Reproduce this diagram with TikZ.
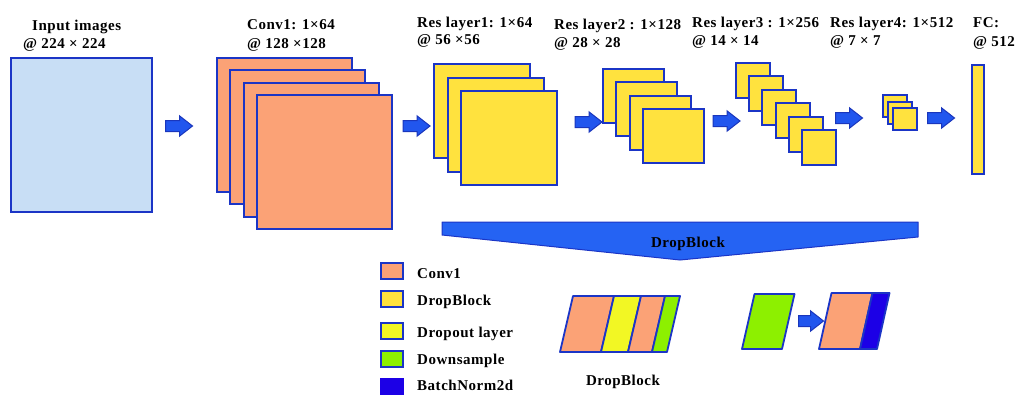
\documentclass[tikz,border=0pt]{standalone}
\usepackage{fontspec}
\setmainfont{Liberation Serif}[LetterSpace=3.5]
\usetikzlibrary{shapes.arrows}
\definecolor{edge}{HTML}{1B35C6}
\definecolor{inputc}{HTML}{C8DEF5}
\definecolor{orangec}{HTML}{FBA276}
\definecolor{yellowc}{HTML}{FFE23E}
\definecolor{dropc}{HTML}{F2F724}
\definecolor{greenc}{HTML}{8DF000}
\definecolor{bnc}{HTML}{1C00E6}
\definecolor{arrowc}{HTML}{2156EE}
\definecolor{arrowedge}{HTML}{1A36BC}
\definecolor{bannerc}{HTML}{2563F3}
\begin{document}
\begin{tikzpicture}[x=1pt,y=-1pt,
  lay/.style={draw=edge,line width=2pt,inner sep=0pt,outer sep=0pt,anchor=north west},
  lbl/.style={anchor=base west,inner sep=0pt,font=\fontsize{15}{17}\selectfont\bfseries},
  clbl/.style={anchor=base,inner sep=0pt,font=\fontsize{15}{17}\selectfont\bfseries},
  para/.style={draw=edge,line width=1.8pt,line join=round},
  barrow/.style={single arrow,draw=arrowedge,fill=arrowc,line width=1pt,minimum height=27pt,inner xsep=0pt,inner ysep=5pt,single arrow head extend=4.5pt,single arrow tip angle=76,anchor=center}]
\useasboundingbox (0,0) rectangle (1020,394);
\clip (0,0) rectangle (1020,394);

% input
\node[lay,fill=inputc,minimum width=141pt,minimum height=154pt] (in) at (11,58) {};
\node[lbl] (tin1) at (32,30) {Input images};
\node[lbl] (tin2) at (23,48) {@ 224 × 224};

% conv1
\foreach \i in {0,...,3}
  \node[lay,fill=orangec,minimum width=135pt,minimum height=134pt] (c\i) at (217+13.3*\i,58+12.3*\i) {};
\node[lbl] (tc1) at (247,29) {Conv1: 1×64};
\node[lbl] (tc2) at (247,48) {@ 128 ×128};

% res1
\foreach \i in {0,...,2}
  \node[lay,fill=yellowc,minimum width=96pt,minimum height=94pt] (ra\i) at (434+13.5*\i,64+13.5*\i) {};
\node[lbl] (tr11) at (417,27) {Res layer1: 1×64};
\node[lbl] (tr12) at (417,44) {@ 56 ×56};

% res2
\foreach \i in {0,...,3}
  \node[lay,fill=yellowc,minimum width=61pt,minimum height=54pt] (rb\i) at (603+13.3*\i,69+13.3*\i) {};
\node[lbl] (tr21) at (554,29) {Res layer2 : 1×128};
\node[lbl] (tr22) at (554,47) {@ 28 × 28};

% res3
\foreach \i in {0,...,5}
  \node[lay,fill=yellowc,minimum width=34pt,minimum height=35pt] (rc\i) at (736+13.2*\i,63+13.4*\i) {};
\node[lbl] (tr31) at (692,27) {Res layer3 : 1×256};
\node[lbl] (tr32) at (692,45) {@ 14 × 14};

% res4
\foreach \i in {0,...,2}
  \node[lay,fill=yellowc,minimum width=24pt,minimum height=22pt] (rd\i) at (883+5*\i,95+6.5*\i) {};
\node[lbl] (tr41) at (830,27) {Res layer4: 1×512};
\node[lbl] (tr42) at (830,45) {@ 7 × 7};

% fc
\node[lay,fill=yellowc,minimum width=12pt,minimum height=109pt] (fc) at (972,65) {};
\node[lbl] (tf1) at (973,27) {FC:};
\node[lbl] (tf2) at (973,46) {@ 512};

% arrows
\node[barrow] (a1) at (175.5,126) {};
\node[barrow] (a2) at (413,126) {};
\node[barrow] (a3) at (585,122) {};
\node[barrow] (a4) at (723,121) {};
\node[barrow] (a5) at (845.5,118) {};
\node[barrow] (a6) at (937.5,118) {};

% banner
\draw[draw=edge,fill=bannerc,line width=1pt,line join=round]
  (442,222) -- (918,222) -- (918,237) -- (680,260) -- (442,235) -- cycle;
\node[clbl] (tban) at (688,247) {DropBlock};

% legend
\node[lay,fill=orangec,minimum width=22pt,minimum height=16pt] (l1) at (381,263) {};
\node[lay,fill=yellowc,minimum width=22pt,minimum height=16pt] (l2) at (381,291) {};
\node[lay,fill=dropc,minimum width=22pt,minimum height=16pt] (l3) at (381,323) {};
\node[lay,fill=greenc,minimum width=22pt,minimum height=16pt] (l4) at (381,351) {};
\node[lay,draw=bnc,fill=bnc,minimum width=22pt,minimum height=16pt] (l5) at (381,379) {};
\node[lbl] (tl1) at (417,278) {Conv1};
\node[lbl] (tl2) at (417,305) {DropBlock};
\node[lbl] (tl3) at (417,337) {Dropout layer};
\node[lbl] (tl4) at (417,364) {Downsample};
\node[lbl] (tl5) at (417,390) {BatchNorm2d};

% dropblock parallelograms
\draw[para,fill=orangec] (560,352) -- (601,352) -- (614,296) -- (573,296) -- cycle;
\draw[para,fill=dropc] (601,352) -- (628,352) -- (641,296) -- (614,296) -- cycle;
\draw[para,fill=orangec] (628,352) -- (652,352) -- (665,296) -- (641,296) -- cycle;
\draw[para,fill=greenc] (652,352) -- (667,352) -- (680,296) -- (665,296) -- cycle;
\node[clbl] (tdb) at (623,385) {DropBlock};

% downsample group
\draw[para,fill=greenc] (742,349) -- (782,349) -- (794.5,294) -- (754.5,294) -- cycle;
\node[barrow,minimum height=25pt] (a7) at (807.5,321) {};
\draw[para,fill=orangec] (819,349) -- (860,349) -- (872.5,293) -- (831.5,293) -- cycle;
\draw[para,fill=bnc] (860,349) -- (877,349) -- (889.5,293) -- (872.5,293) -- cycle;
\end{tikzpicture}
\end{document}
